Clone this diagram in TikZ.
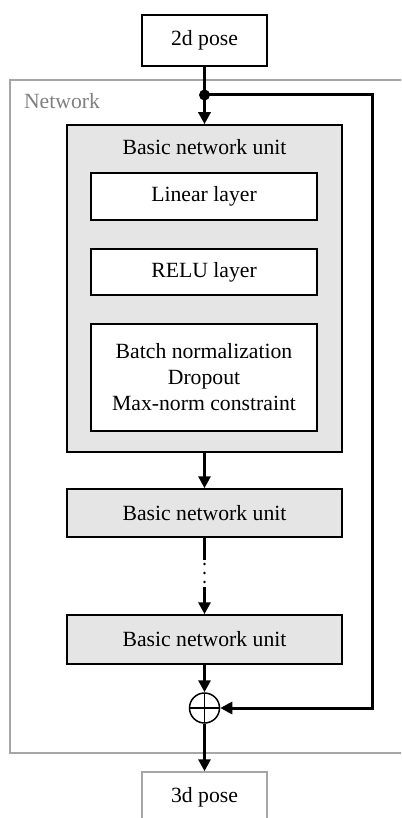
\documentclass[tikz,border=0pt]{standalone}
\usepackage{fontspec}
\setmainfont{Liberation Serif}
\usetikzlibrary{arrows.meta}

\begin{document}
\begin{tikzpicture}[x=1pt,y=-1pt,
    font=\fontsize{21.7}{26}\selectfont,
    posebox/.style={draw,line width=1.5pt,fill=white,inner sep=0pt,minimum width=125pt,minimum height=51pt},
    unitbox/.style={draw,line width=1.5pt,fill=black!10,inner sep=0pt,minimum width=275pt},
    layerbox/.style={draw,line width=1.6pt,fill=white,inner sep=0pt,minimum width=226pt,align=center},
    flow/.style={line width=3pt,-{Triangle[length=12pt,width=12pt]}},
    plus/.style={circle,draw,line width=1.5pt,minimum size=30pt,inner sep=0pt,
        path picture={\draw[line width=1.5pt]
            (path picture bounding box.north) -- (path picture bounding box.south)
            (path picture bounding box.west) -- (path picture bounding box.east);}}]
    \clip (0,0) rectangle (401,818);
    % Network frame
    \draw[gray!70,line width=1.5pt] (10,80) rectangle (440,753);
    \node[gray] (netlbl) at (62,101) {Network};
    % Inputs and outputs
    \node[posebox] (pose2d) at (204.5,40.5) {2d pose};
    \node[posebox,draw=gray!70] (pose3d) at (204.5,797.5) {3d pose};
    % First basic unit with its layers
    \node[unitbox,minimum height=327pt] (unit1) at (204.5,288.5) {};
    \node (unit1lbl) at (204.5,147) {Basic network unit};
    \node[layerbox,minimum height=47pt] (linear) at (204,196.5) {Linear layer};
    \node[layerbox,minimum height=46pt] (relu) at (204,272) {RELU layer};
    \node[layerbox,minimum height=107pt] (batch) at (204,377.5)
        {Batch normalization\\Dropout\\Max-norm constraint};
    % Further units
    \node[unitbox,minimum height=48pt] (unit2) at (204.5,513) {Basic network unit};
    \node[unitbox,minimum height=49pt] (unit3) at (204.5,639.5) {Basic network unit};
    \node[plus] (add) at (204.5,708) {};
    % Connections
    \coordinate (split) at (204.5,95);
    \coordinate (loop) at (372,95);
    \coordinate (gaptop) at (204.5,560);
    \coordinate (gapbot) at (204.5,587);
    \draw[flow] (pose2d) -- (unit1);
    \fill (split) circle (5.5);
    \draw[flow] (split) -- (loop) |- (add);
    \draw[flow] (unit1) -- (unit2);
    \draw[line width=3pt] (unit2) -- (gaptop);
    \foreach \y in {564,573,582}
        \fill (204.5,\y) circle (1.4);
    \draw[flow] (gapbot) -- (unit3);
    \draw[flow] (unit3) -- (add);
    \draw[flow] (add) -- (pose3d);
\end{tikzpicture}
\end{document}
